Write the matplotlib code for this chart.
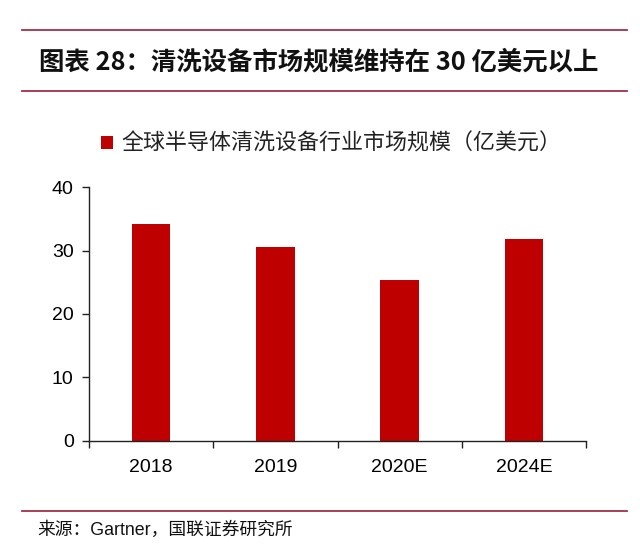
import matplotlib
matplotlib.use("Agg")
import matplotlib.pyplot as plt
from matplotlib.lines import Line2D
import numpy as np

categories = ["2018", "2019", "2020E", "2024E"]
values = [34.2, 30.5, 25.4, 31.9]
yticks = [0, 10, 20, 30, 40]
series_name = "全球半导体清洗设备行业市场规模（亿美元）"
title = "图表 28：清洗设备市场规模维持在 30 亿美元以上"
source = "来源：Gartner，国联证券研究所"

CJK = ["Noto Sans CJK SC", "DejaVu Sans"]
LAT = ["Liberation Sans", "Noto Sans CJK SC"]
BAR = "#BE0000"
LINE = "#A0304A"

fig = plt.figure(figsize=(6.4, 5.58), dpi=100)
fig.patch.set_facecolor("white")

# header / footer lines
for yy in (1 - 30 / 558, 1 - 90.5 / 558, 1 - 511 / 558):
    fig.add_artist(Line2D([22 / 640, 627 / 640], [yy, yy], color=LINE, lw=1.3,
                          transform=fig.transFigure))

fig.text(39 / 640, 1 - 62 / 558, title, family=CJK, fontsize=18.3,
         fontweight="bold", va="center", ha="left", color="#111111")
fig.text(37 / 640, 1 - 530 / 558, source, family=LAT, fontsize=12.8,
         va="center", ha="left", color="#111111")

ax = fig.add_axes([89 / 640, 1 - 440.7 / 558, 497 / 640, 253.4 / 558])
x = np.arange(len(categories))
ax.bar(x, values, width=0.31, color=BAR, label=series_name, zorder=2)
ax.set_xlim(-0.5, len(categories) - 0.5)
ax.set_ylim(0, 40)
ax.set_yticks(yticks)
ax.set_yticklabels([str(t) for t in yticks], family=LAT, fontsize=14)
ax.set_xticks(np.arange(-0.5, len(categories)), minor=False)
ax.set_xticklabels([])
ax.set_xticks(x, minor=True)
ax.set_xticklabels(categories, minor=True, family=LAT, fontsize=14)
ax.tick_params(axis="x", which="minor", length=0, pad=13)
ax.tick_params(axis="x", which="major", length=5, width=1, color="#222222")
ax.tick_params(axis="y", length=5, width=1, color="#222222", pad=6)
for s in ("top", "right"):
    ax.spines[s].set_visible(False)
for s in ("left", "bottom"):
    ax.spines[s].set_color("#222222")
    ax.spines[s].set_linewidth(1.0)

leg = ax.legend(loc="center left", bbox_to_anchor=(101 / 640, 1 - 144 / 558),
                bbox_transform=fig.transFigure, frameon=False,
                prop={"family": CJK, "size": 15.8, "weight": "light"},
                handlelength=0.55, handleheight=0.55, handletextpad=0.4,
                borderpad=0, borderaxespad=0)
for t in leg.get_texts():
    t.set_color("#222222")

fig.savefig("out.png", dpi=100, facecolor="white")
